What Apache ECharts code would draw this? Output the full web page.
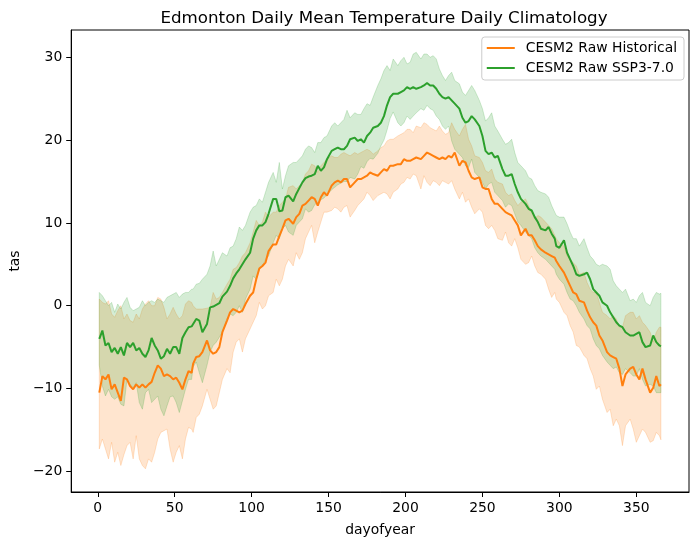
<!DOCTYPE html>
<html>
<head>
<meta charset="utf-8">
<script src="https://cdn.jsdelivr.net/npm/echarts@6.0.0/dist/echarts.min.js"></script>
<style>
html,body{margin:0;padding:0;background:#fff;}
#chart{width:698px;height:545px;}
</style>
</head>
<body>
<div id="chart"></div>
<script>
// ---- data ----
const days = [
  1,3,5,7,9,11,13,15,17,19,21,23,25,27,29,31,33,35,37,39,41,43,45,47,49,51,53,55,57,59,61,
  62,64,66,68,71,73,75,77,79,81,84,86,88,90,92,94,96,99,101,103,105,107,109,111,114,116,118,120,122,124,127,129,131,133,135,137,139,
  141,143,145,147,149,152,154,156,158,160,162,164,167,169,171,173,175,177,179,182,184,186,188,190,192,195,197,199,201,203,205,207,210,212,214,216,218,
  220,222,224,226,228,230,232,235,237,239,241,243,245,248,250,252,254,256,258,260,263,265,267,269,271,273,275,278,280,282,284,286,288,291,293,295,297,
  298,300,303,305,307,309,311,313,316,318,320,322,324,326,328,331,333,335,337,339,341,343,346,348,350,352,354,356,359,361,363,365,366
];

const histMean = [
  -10.5,-8.5,-8.9,-8.3,-10.1,-9.5,-10.5,-11.5,-8.7,-8.9,-9.7,-10.1,-9.5,-9.9,-9.5,-9.9,-9.5,-9.2,-8.1,-7.2,-7.6,-8.5,-8.3,-8.5,-8.9,-8.7,-9.3,-10.1,-8.9,-7.9,-8.1,
  -7.0,-6.2,-6.1,-5.6,-4.2,-5.4,-5.8,-5.6,-5.0,-3.2,-1.8,-0.8,-0.4,-0.6,-0.8,-0.6,0.2,1.2,1.6,3.2,4.5,4.8,5.2,6.6,7.4,7.4,8.4,9.3,10.3,10.5,9.9,10.7,11.1,12.1,12.3,12.7,13.1,
  12.9,12.1,13.1,13.7,13.3,14.5,14.9,15.1,14.9,15.3,15.3,14.3,14.9,15.3,15.3,15.5,15.7,16.1,15.9,15.7,16.1,16.5,16.3,16.9,16.9,17.1,17.1,17.7,17.5,17.5,17.7,17.9,17.7,18.1,18.5,18.3,18.1,
  17.9,17.7,17.9,17.7,18.1,17.9,18.5,16.9,17.5,17.3,16.3,15.5,15.3,15.5,14.3,14.1,14.1,12.9,12.3,12.3,11.7,11.3,11.1,10.9,10.3,9.7,8.5,9.3,8.5,8.5,7.9,7.2,6.8,6.4,6.2,6.0,5.8,
  5.4,4.8,4.0,3.2,2.4,1.6,1.4,0.6,0.4,-0.6,-1.4,-2.0,-2.4,-3.6,-4.2,-5.6,-6.0,-6.2,-6.4,-7.6,-9.7,-8.3,-7.6,-7.4,-8.3,-8.9,-7.6,-8.9,-10.5,-9.9,-8.5,-9.7,-9.5
];
const histUpper = [
  0.8,0.4,0.2,0.6,-1.0,-1.4,-0.6,0.0,-1.6,-1.0,-1.8,-2.0,-1.0,-1.6,-0.4,0.2,0.6,0.0,0.0,1.0,0.8,-0.2,-1.6,-1.0,-0.2,-1.0,-1.6,-1.2,0.2,0.6,0.4,
  0.0,-0.4,-0.4,-0.4,-0.3,-0.2,1.6,0.8,1.0,1.6,2.6,3.2,4.4,4.6,5.2,6.0,6.4,7.6,8.9,10.3,9.7,10.1,11.3,10.7,11.3,11.3,12.1,12.5,12.9,14.3,14.5,14.1,14.5,14.9,15.9,16.3,17.1,
  16.9,16.1,16.9,17.3,17.7,18.1,17.9,17.9,18.3,18.5,18.3,18.1,18.5,18.3,18.5,18.7,18.9,18.7,18.3,18.7,19.1,19.3,19.9,20.1,20.1,20.5,20.7,20.9,21.3,21.3,20.9,21.7,21.5,22.1,21.9,21.5,21.3,
  21.1,21.7,21.1,20.7,20.9,22.1,21.3,20.5,21.3,21.9,20.1,19.3,18.1,17.9,17.3,16.3,16.1,16.5,15.3,14.9,14.7,13.7,13.3,13.5,12.7,12.1,12.5,12.9,12.1,11.3,10.5,10.9,10.7,10.1,9.7,9.3,8.5,
  8.1,7.6,7.2,6.0,5.6,5.2,4.8,3.8,4.0,2.8,2.0,1.6,1.6,0.4,-0.8,-1.2,-1.6,-1.2,-1.6,-2.6,-2.6,-1.2,-0.8,-0.8,-1.6,-1.2,-2.0,-2.4,-3.2,-4.4,-3.2,-2.6,-2.6
];
const histLower = [
  -17.3,-16.1,-17.3,-18.5,-16.5,-18.9,-17.7,-19.3,-18.0,-16.9,-16.5,-18.5,-15.7,-18.5,-19.3,-19.7,-18.5,-18.9,-17.7,-16.1,-15.3,-15.1,-14.9,-17.3,-18.9,-17.7,-16.9,-18.5,-16.1,-14.7,-14.9,
  -15.3,-13.5,-13.1,-12.1,-10.1,-11.3,-12.5,-12.1,-10.5,-8.9,-7.6,-8.1,-5.6,-4.4,-4.0,-5.6,-4.0,-2.8,-2.0,-1.2,0.4,-0.4,0.0,1.2,1.6,3.2,2.4,3.2,4.8,5.6,4.8,6.4,5.6,6.4,8.1,8.9,9.7,
  7.6,8.9,10.1,11.3,11.3,11.5,11.9,11.7,11.3,11.9,12.1,10.7,11.5,12.1,12.5,12.9,13.7,13.3,12.7,13.3,13.5,13.7,13.5,12.9,13.7,14.1,14.7,14.9,15.5,15.3,15.9,15.7,14.1,15.7,14.9,14.5,15.1,
  14.9,14.5,15.1,14.9,14.7,15.1,14.1,12.9,13.7,12.5,12.9,11.9,11.1,11.7,11.3,9.7,9.3,9.7,9.1,8.1,7.9,8.9,7.6,7.2,8.1,7.0,5.6,5.0,5.2,6.0,4.8,4.0,3.8,3.2,2.0,1.0,1.6,
  0.8,0.4,-0.8,-1.2,-2.4,-3.2,-4.8,-5.0,-6.0,-6.4,-7.6,-8.5,-10.1,-9.7,-11.3,-12.9,-12.5,-14.5,-13.7,-14.5,-16.9,-14.5,-13.7,-14.9,-16.5,-15.7,-14.9,-15.3,-16.5,-16.3,-15.3,-15.7,-16.2
];
const sspMean = [
  -4.0,-3.0,-4.8,-4.5,-5.6,-5.1,-5.8,-5.0,-6.0,-4.5,-5.0,-4.5,-5.4,-5.1,-5.8,-6.2,-5.4,-3.9,-4.8,-5.4,-6.4,-6.1,-5.2,-5.8,-5.0,-5.0,-5.8,-3.9,-3.2,-2.6,-2.5,
  -2.6,-1.6,-1.8,-3.2,-2.2,-0.2,-0.1,0.1,0.3,1.1,1.7,2.4,3.3,3.9,4.4,5.0,5.6,6.4,8.1,9.1,9.7,9.7,10.1,11.1,12.9,12.9,11.4,11.5,13.1,13.3,12.6,13.5,14.2,14.9,15.4,15.6,15.7,
  15.9,16.9,16.3,16.7,17.7,18.7,18.9,19.1,18.9,18.9,19.3,20.1,20.3,19.9,20.1,19.7,20.5,20.9,21.5,21.7,22.1,22.9,24.2,25.2,25.6,25.6,25.8,26.0,26.4,26.2,26.4,26.2,26.4,26.6,26.9,26.6,26.6,
  26.2,25.6,25.2,25.0,25.2,24.8,24.4,23.8,22.7,22.1,22.3,22.9,22.5,21.7,20.5,18.7,18.3,18.5,17.9,18.1,16.5,15.7,15.7,15.9,14.7,13.7,12.9,12.3,11.7,11.5,10.7,10.1,9.3,9.1,9.5,8.7,8.1,
  7.2,7.0,7.9,6.4,5.6,4.8,3.8,3.6,3.8,4.0,3.2,2.0,1.6,1.2,0.4,0.0,-0.8,-1.4,-2.0,-2.4,-2.6,-3.2,-3.6,-3.6,-3.4,-3.2,-4.4,-5.0,-4.8,-3.6,-4.4,-4.8,-4.9
];
const sspUpper = [
  1.6,1.2,0.6,0.0,0.4,-0.8,0.2,-0.4,0.4,1.0,-0.2,-0.6,-0.4,-0.2,0.6,0.0,0.4,0.6,0.4,0.8,0.6,0.4,1.0,1.2,1.4,1.6,1.0,1.4,1.6,1.6,2.0,
  2.0,2.6,2.7,3.2,3.8,4.8,6.6,4.8,5.6,6.4,6.0,7.0,7.2,8.1,9.5,9.1,9.7,11.3,11.9,12.1,12.9,12.5,13.7,14.9,16.1,14.9,17.3,14.1,15.7,16.9,17.3,17.3,17.7,18.1,18.9,19.3,19.1,
  18.5,19.7,19.7,20.3,20.5,21.7,22.1,21.7,22.1,22.5,23.6,22.7,23.3,23.1,23.1,23.8,24.4,24.2,25.2,26.6,27.4,28.4,29.0,28.4,29.8,29.0,29.6,30.0,29.2,29.4,30.4,30.6,29.8,30.4,30.4,30.0,30.2,
  29.8,28.6,27.8,27.2,27.8,28.2,27.2,26.8,25.8,25.4,26.0,26.6,26.0,24.8,23.8,22.3,22.7,23.3,21.7,21.1,20.1,19.5,19.7,20.1,18.5,17.3,16.9,16.3,15.5,15.3,14.5,13.9,13.7,13.5,13.1,12.1,11.3,
  10.9,10.7,10.7,9.9,8.9,8.1,8.1,7.2,8.1,7.0,6.0,5.6,5.0,4.8,5.0,4.8,4.4,3.0,2.4,2.0,1.6,2.0,0.6,0.8,0.4,1.2,1.6,0.4,0.0,1.0,1.6,1.4,1.5
];
const sspLower = [
  -7.2,-9.7,-10.9,-10.1,-11.0,-11.3,-11.0,-11.9,-12.1,-8.9,-9.5,-9.9,-9.3,-11.7,-12.5,-10.5,-10.1,-11.7,-11.3,-10.9,-12.5,-13.3,-12.1,-11.0,-10.9,-11.7,-12.9,-11.5,-10.1,-8.9,-8.9,
  -7.4,-6.8,-8.1,-9.3,-7.2,-5.6,-4.8,-4.4,-3.8,-3.2,-1.6,-1.0,-1.2,-0.8,0.0,-0.8,0.8,2.0,3.6,3.2,4.4,4.8,5.6,6.0,7.6,8.5,8.1,9.3,9.7,8.9,8.5,9.7,10.1,10.5,11.7,11.3,11.5,
  12.2,12.5,12.8,13.0,13.4,14.0,14.3,14.6,14.8,15.0,15.0,15.5,15.3,15.9,16.8,16.6,17.4,17.8,17.7,18.4,19.3,20.0,21.2,22.6,23.4,22.1,21.7,22.1,22.9,22.5,22.9,23.3,23.8,23.6,24.2,23.8,23.6,
  22.9,22.5,21.7,21.3,21.7,19.9,18.9,18.3,17.9,16.9,16.7,17.7,16.1,15.5,14.9,14.1,14.7,14.9,13.7,13.3,12.7,11.9,12.3,12.1,11.1,10.1,9.7,8.9,8.5,8.1,7.0,6.4,6.0,5.6,5.2,4.8,4.4,
  3.8,3.2,2.6,1.6,0.8,0.6,0.0,-0.8,-1.6,-2.4,-2.8,-4.0,-4.8,-5.2,-6.0,-6.8,-7.2,-7.6,-7.4,-8.1,-8.3,-7.6,-8.1,-8.5,-8.5,-7.6,-8.9,-9.7,-9.5,-9.7,-10.5,-10.5,-10.5
];

const xTicks = [0, 50, 100, 150, 200, 250, 300, 350];
const yTicks = [-20, -10, 0, 10, 20, 30];
const seriesNames = ['CESM2 Raw Historical', 'CESM2 Raw SSP3-7.0'];
const titleText = 'Edmonton Daily Mean Temperature Daily Climatology';
const xName = 'dayofyear';
const yName = 'tas';

// ---- chart ----
const FONT = 'DejaVu Sans';
const ORANGE = '#ff7f0e', GREEN = '#2ca02c';
const chart = echarts.init(document.getElementById('chart'), null, {renderer: 'canvas'});

function pairs(vals) { return days.map((d, i) => [d, vals[i]]); }

function band(name, upper, lower, rgba, z) {
  return {
    type: 'custom', name: name, z: z, silent: true, clip: true,
    data: days.map((d, i) => [d, lower[i], upper[i]]),
    encode: {x: 0, y: [1, 2]},
    renderItem: function (params, api) {
      if (params.dataIndex !== 0) return null;
      const pts = [];
      for (let i = 0; i < days.length; i++) pts.push(api.coord([days[i], upper[i]]));
      for (let i = days.length - 1; i >= 0; i--) pts.push(api.coord([days[i], lower[i]]));
      return {type: 'polygon', shape: {points: pts},
              style: {fill: rgba, stroke: rgba, lineWidth: 1}};
    }
  };
}

const fmtMinus = v => String(v).replace('-', '\u2212');

chart.setOption({
  animation: false,
  backgroundColor: '#fff',
  textStyle: {fontFamily: FONT},
  title: {
    text: titleText, left: 379, top: 5, textAlign: 'center',
    textStyle: {fontFamily: FONT, fontSize: 16.7, fontWeight: 'normal', color: '#000'}
  },
  grid: {left: 69, right: 9, top: 30, bottom: 53, show: true,
         borderColor: '#000', borderWidth: 1, backgroundColor: 'transparent'},
  legend: {
    data: [
      {name: seriesNames[0], icon: 'rect', itemStyle: {color: ORANGE}},
      {name: seriesNames[1], icon: 'rect', itemStyle: {color: GREEN}}
    ],
    orient: 'vertical', right: 14, top: 37,
    itemWidth: 28, itemHeight: 2, itemGap: 6,
    padding: [4, 7, 5, 5],
    borderColor: '#cccccc', borderWidth: 1, borderRadius: 3,
    backgroundColor: 'rgba(255,255,255,0.8)',
    textStyle: {fontFamily: FONT, fontSize: 13.9, color: '#000', padding: [0, 0, 0, 6]}
  },
  xAxis: {
    type: 'value', min: -17.25, max: 384.25,
    name: xName, nameLocation: 'middle', nameGap: 31,
    nameTextStyle: {fontFamily: FONT, fontSize: 13.9, color: '#000'},
    axisLine: {show: true, onZero: false, lineStyle: {color: '#000', width: 1}},
    axisTick: {show: true, inside: false, length: 5, customValues: xTicks, lineStyle: {color: '#000', width: 1}},
    axisLabel: {show: true, customValues: xTicks, margin: 9, fontFamily: FONT, fontSize: 13.9, color: '#000',
                formatter: v => fmtMinus(v)},
    splitLine: {show: false}
  },
  yAxis: {
    type: 'value', min: -22.5, max: 33.3,
    name: yName, nameLocation: 'middle', nameGap: 47, nameRotate: 90,
    nameTextStyle: {fontFamily: FONT, fontSize: 13.9, color: '#000'},
    axisLine: {show: true, onZero: false, lineStyle: {color: '#000', width: 1}},
    axisTick: {show: true, inside: false, length: 5, customValues: yTicks, lineStyle: {color: '#000', width: 1}},
    axisLabel: {show: true, customValues: yTicks, margin: 9, fontFamily: FONT, fontSize: 13.9, color: '#000',
                formatter: v => fmtMinus(v)},
    splitLine: {show: false}
  },
  series: [
    band('hist band', histUpper, histLower, 'rgba(255,127,14,0.2)', 1),
    band('ssp band', sspUpper, sspLower, 'rgba(44,160,44,0.2)', 2),
    {type: 'line', name: seriesNames[0], data: pairs(histMean), symbol: 'none', showSymbol: false,
     z: 3, silent: true, lineStyle: {color: ORANGE, width: 2}, itemStyle: {color: ORANGE}},
    {type: 'line', name: seriesNames[1], data: pairs(sspMean), symbol: 'none', showSymbol: false,
     z: 4, silent: true, lineStyle: {color: GREEN, width: 2}, itemStyle: {color: GREEN}}
  ]
});
</script>
</body>
</html>
